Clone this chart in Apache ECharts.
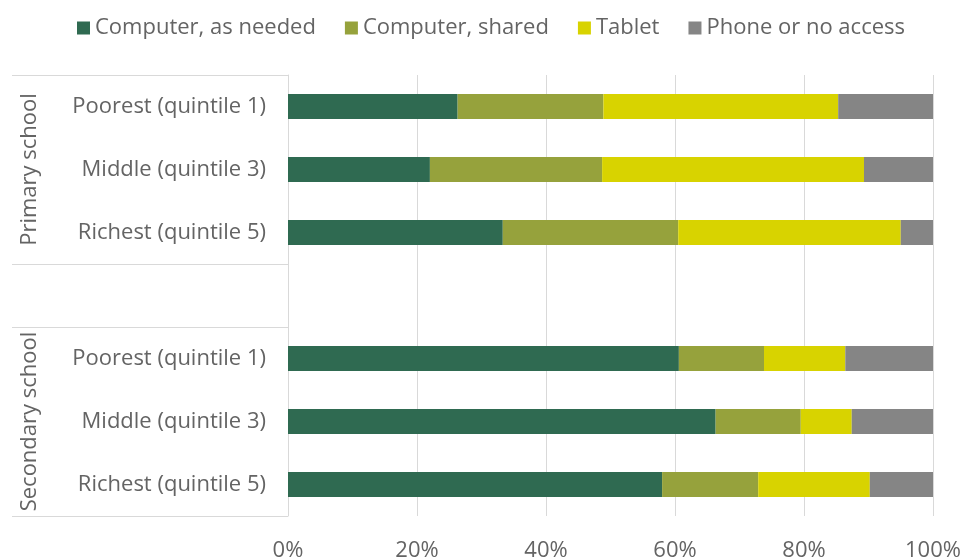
<!DOCTYPE html>
<html>
<head>
<meta charset="utf-8">
<script src="https://cdn.jsdelivr.net/npm/echarts@6/dist/echarts.min.js"></script>
<style>
  html, body { margin: 0; padding: 0; background: #ffffff; }
  #chart { width: 964px; height: 559px; }
</style>
</head>
<body>
<div id="chart"></div>
<script>
// Rows top to bottom; the empty row separates the two school levels
const categories = [
  'Poorest (quintile 1)', 'Middle (quintile 3)', 'Richest (quintile 5)',
  '',
  'Poorest (quintile 1)', 'Middle (quintile 3)', 'Richest (quintile 5)'
];
const groups = ['Primary school', 'Secondary school'];
const groupRanges = [[0, 2], [4, 6]];   // first and last row index of each group

const seriesNames = ['Computer, as needed', 'Computer, shared', 'Tablet', 'Phone or no access'];
const computerAsNeeded = [26.3, 22.0, 33.3, '-', 60.6, 66.3, 58.0];
const computerShared   = [22.6, 26.7, 27.2, '-', 13.2, 13.2, 14.9];
const tablet           = [36.4, 40.6, 34.5, '-', 12.6,  7.9, 17.3];
const phoneOrNone      = [14.7, 10.7,  5.0, '-', 13.6, 12.6,  9.8];
const xTicks = [0, 20, 40, 60, 80, 100];

const colors = ['#2f6a51', '#96a23c', '#d8d300', '#858585'];
const textColor = '#646464';
const lineColor = '#d9d9d9';
const font = '"Open Sans", "Noto Sans", sans-serif';
const fontSize = 22;

const chart = echarts.init(document.getElementById('chart'), null, { renderer: 'canvas' });

const values = [computerAsNeeded, computerShared, tablet, phoneOrNone];

chart.setOption({
  animation: false,
  color: colors,
  textStyle: { fontFamily: font },
  legend: {
    top: 12,
    left: 72,
    itemWidth: 13,
    itemHeight: 13,
    itemGap: 29,
    icon: 'rect',
    textStyle: { fontSize: fontSize, color: textColor, fontFamily: font },
    data: seriesNames
  },
  grid: {
    left: 288, right: 31, top: 75, bottom: 43,
    containLabel: false,
    outerBoundsMode: 'none'
  },
  xAxis: {
    type: 'value',
    min: xTicks[0],
    max: xTicks[xTicks.length - 1],
    interval: 20,
    axisLine: { show: false },
    axisTick: { show: false },
    splitLine: { show: true, lineStyle: { color: lineColor, width: 1 } },
    axisLabel: {
      margin: 24,
      fontSize: fontSize,
      color: textColor,
      fontFamily: font,
      formatter: v => v + '%'
    }
  },
  yAxis: {
    type: 'category',
    inverse: true,
    data: categories,
    axisLine: { show: true, lineStyle: { color: lineColor, width: 1 } },
    axisTick: { show: false },
    axisLabel: { margin: 22, fontSize: fontSize, color: textColor, fontFamily: font }
  },
  series: seriesNames.map((name, i) => ({
    name: name,
    type: 'bar',
    stack: 'total',
    barWidth: 25,
    data: values[i],
    itemStyle: { color: colors[i] }
  }))
});

// Group frame lines and rotated group titles, placed from the category scale
function drawGroups() {
  const y0 = chart.convertToPixel({ yAxisIndex: 0 }, 0);
  const y1 = chart.convertToPixel({ yAxisIndex: 0 }, 1);
  const band = y1 - y0;
  const xZero = chart.convertToPixel({ xAxisIndex: 0 }, 0);
  const frameLeft = 12;
  const elements = [];
  groupRanges.forEach((r, gi) => {
    const top = chart.convertToPixel({ yAxisIndex: 0 }, r[0]) - band / 2;
    const bottom = chart.convertToPixel({ yAxisIndex: 0 }, r[1]) + band / 2;
    [top, bottom].forEach(y => {
      elements.push({
        type: 'line',
        shape: { x1: frameLeft, y1: Math.round(y) + 0.5, x2: xZero, y2: Math.round(y) + 0.5 },
        style: { stroke: lineColor, lineWidth: 1 },
        silent: true
      });
    });
    elements.push({
      type: 'text',
      x: 30,
      y: (top + bottom) / 2,
      rotation: Math.PI / 2,
      style: {
        text: groups[gi],
        fill: textColor,
        font: fontSize + 'px ' + font,
        align: 'center',
        verticalAlign: 'middle'
      },
      silent: true
    });
  });
  chart.setOption({ graphic: { elements: elements } });
}
drawGroups();
</script>
</body>
</html>
